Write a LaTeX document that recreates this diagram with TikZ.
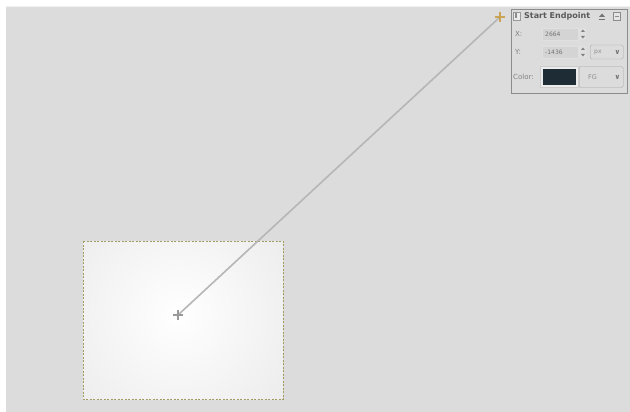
\documentclass[tikz,border=0pt]{standalone}
\usepackage{fontspec}
\setmainfont{DejaVu Sans}
\usetikzlibrary{positioning}

\definecolor{canvas}{HTML}{DCDCDC}
\definecolor{ants}{HTML}{A09C62}
\definecolor{guide}{HTML}{B6B6B6}
\definecolor{handle}{HTML}{C9A455}
\definecolor{fgcolor}{HTML}{1E2C35}

\tikzset{
  selbox/.style={draw=ants, line width=1pt, dash pattern=on 2pt off 1.5pt},
  blendline/.style={draw=guide, line width=1.6pt},
  lbl/.style={font=\fontsize{7}{8}\selectfont, text=black!50, inner sep=0pt},
  field/.style={draw=black!12, fill=black!17, minimum width=36pt, minimum height=12pt,
    inner sep=2pt, font=\fontsize{6}{7}\selectfont, text=black!55, text width=30pt, align=left},
  combo/.style={draw=black!35, rounded corners=1.5pt, fill=canvas, minimum height=14pt,
    font=\fontsize{6.5}{7}\selectfont, text=black!45}
}

\begin{document}
\begin{tikzpicture}[x=1pt,y=-1pt]
  \useasboundingbox (0,0) rectangle (630,412);
  \fill[white] (0,0) rectangle (630,412);
  \fill[canvas] (6,6) rectangle (630,412);
  \draw[white!60!canvas, line width=1pt] (6,6.5) -- (630,6.5);

  % layer with radial blend
  \begin{scope}
    \clip (83,241) rectangle (283,399);
    \shade[inner color=white, outer color=canvas] (178,315) circle (250);
  \end{scope}
  \draw[selbox] (83,241) rectangle (283,399);

  % blend line and its end points
  \coordinate (start) at (178,315);
  \coordinate (end) at (500,17);
  \draw[blendline] (start) -- (end);
  \draw[black!40, line width=1.6pt] (start) +(-5,0) -- +(5,0) (start) +(0,-5) -- +(0,5);
  \draw[handle, line width=1.6pt] (end) +(-5,0) -- +(5,0) (end) +(0,-5) -- +(0,5);

  % on-canvas dialog
  \draw[black!45, fill=canvas] (511,9) rectangle (627,93);
  \draw[black!40, fill=black!8] (513,12) rectangle (520,20);
  \fill[black!45] (514.5,13.5) rectangle (516.5,18.5);
  \node[anchor=west, inner sep=0pt, text=black!65, font=\fontsize{8}{9}\selectfont\bfseries]
    (title) at (524,16) {Start Endpoint};
  \fill[black!55] (599,17) -- (605,17) -- (602,13.5) -- cycle;
  \draw[black!55, line width=0.7pt] (599,19.5) -- (605,19.5);
  \draw[black!45, fill=black!10] (613,12) rectangle (620,20);
  \draw[black!45] (614.5,16) -- (618.5,16);

  \node[lbl, anchor=west] (xlabel) at (515,34) {X:};
  \node[field, anchor=west] (xfield) at (542,34) {2664};
  \node[lbl, anchor=west] (ylabel) at (515,52) {Y:};
  \node[field, anchor=west] (yfield) at (542,52) {-1436};
  \foreach \f in {xfield,yfield} {
    \fill[black!12] ([xshift=1pt]\f.north east) rectangle ([xshift=8pt]\f.south east);
    \fill[black!50] ([xshift=2.5pt,yshift=-2pt]\f.east) -- ([xshift=6.5pt,yshift=-2pt]\f.east)
      -- ([xshift=4.5pt,yshift=-4.5pt]\f.east) -- cycle;
    \fill[black!50] ([xshift=2.5pt,yshift=2pt]\f.east) -- ([xshift=6.5pt,yshift=2pt]\f.east)
      -- ([xshift=4.5pt,yshift=4.5pt]\f.east) -- cycle;
  }
  \node[combo, minimum width=33pt, anchor=west] (unitbox) at (590,52) {};
  \node[anchor=west, inner sep=0pt, font=\fontsize{6}{7}\selectfont, text=black!45]
    (unit) at (594,52) {px};
  \node[anchor=east, inner sep=0pt, font=\fontsize{7}{7}\selectfont\bfseries, text=black!55]
    (unitarrow) at ([xshift=-3pt]unitbox.east) {∨};

  \node[lbl, anchor=west] (colorlabel) at (513,77) {Color:};
  \node[draw=black!20, fill=black!8, minimum width=38pt, minimum height=21pt, inner sep=0pt,
    anchor=west] (swatch) at (540,77) {};
  \fill[fgcolor] ([shift={(2.5pt,-2.5pt)}]swatch.north west)
    rectangle ([shift={(-2.5pt,2.5pt)}]swatch.south east);
  \node[combo, minimum width=44pt, minimum height=21pt, anchor=west] (fgbox) at (579,77) {};
  \node[anchor=west, inner sep=0pt, font=\fontsize{6.5}{7}\selectfont, text=black!45]
    (fg) at (588,77) {FG};
  \node[anchor=east, inner sep=0pt, font=\fontsize{7}{7}\selectfont\bfseries, text=black!55]
    (fgarrow) at ([xshift=-3pt]fgbox.east) {∨};
\end{tikzpicture}
\end{document}
